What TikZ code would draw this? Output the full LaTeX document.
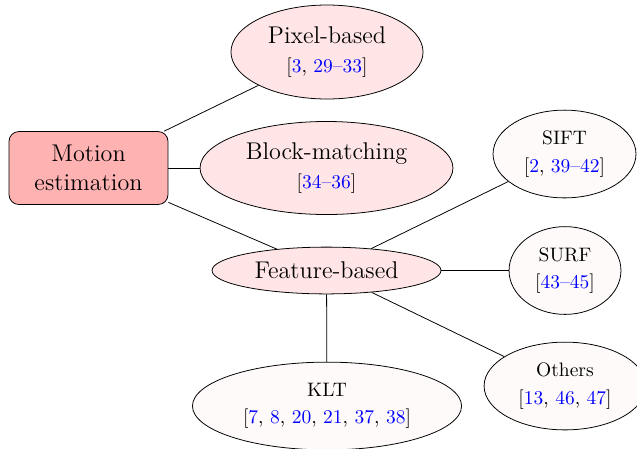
\documentclass[tikz,border=0pt]{standalone}
\usepackage{tikz}
\usetikzlibrary{shapes.geometric}
\newcommand{\refn}[1]{\textcolor{blue}{#1}}

\begin{document}
\begin{tikzpicture}[x=0.5128pt,y=-0.5128pt,
  root/.style={draw, rounded corners=5pt, fill=red!30, align=center,
    font=\fontsize{12.4}{15}\selectfont,
    minimum width=81.5pt, minimum height=37.4pt},
  method/.style={draw, ellipse, fill=red!10, align=center,
    font=\fontsize{12.4}{14.5}\selectfont},
  leaf/.style={draw, ellipse, fill=red!2, align=center, minimum height=45pt}]
\useasboundingbox (0,0) rectangle (637,448);
% root
\node [root] (motion) at (88.5,168) {Motion\\estimation};
% families of methods
\node [method, minimum width=98.5pt, minimum height=48.2pt] (pixel) at (327,52)
  {Pixel-based\\{\normalsize [\refn{3}, \refn{29--33}]}};
\node [method, minimum width=129.7pt, minimum height=47.7pt] (block) at (326.5,168)
  {Block-matching\\{\normalsize [\refn{34--36}]}};
\node [method, minimum width=117.4pt, minimum height=24pt] (feature) at (326.5,270.5)
  {Feature-based};
% feature detectors
\node [leaf, minimum width=73.3pt] (sift) at (564.5,154)
  {SIFT\\[2pt] [\refn{2}, \refn{39--42}]};
\node [leaf, minimum width=57.4pt] (surf) at (565,270.5)
  {SURF\\[2pt] [\refn{43--45}]};
\node [leaf, minimum width=83pt] (others) at (565,386)
  {Others\\[2pt] [\refn{13}, \refn{46}, \refn{47}]};
\node [leaf, minimum width=138pt] (klt) at (327,406)
  {KLT\\[2pt] [\refn{7}, \refn{8}, \refn{20}, \refn{21}, \refn{37}, \refn{38}]};
\draw (motion) -- (pixel);
\draw (motion) -- (block);
\draw (motion) -- (feature);
\draw (feature) -- (sift);
\draw (feature) -- (surf);
\draw (feature) -- (others);
\draw (feature) -- (klt);
\end{tikzpicture}
\end{document}
